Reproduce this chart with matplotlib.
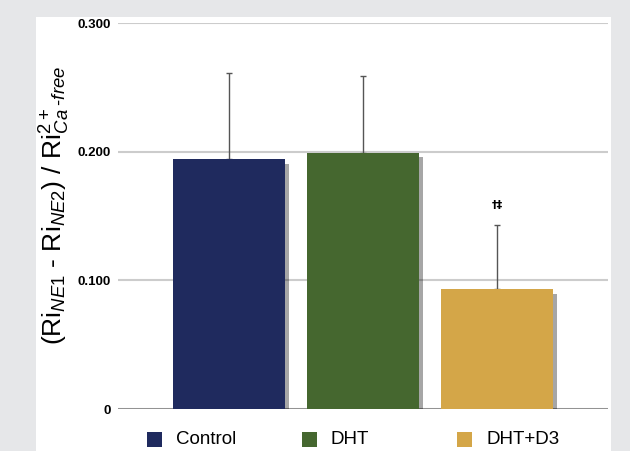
import matplotlib.pyplot as plt
import matplotlib.patheffects as pe
from matplotlib.patches import Rectangle

# Datos
groups = ['Control', 'DHT', 'DHT+D3']
means = [0.194, 0.199, 0.093]
errors = [0.067, 0.060, 0.050]
colors = ['#1f2a5e', '#45672f', '#d4a648']
yticks = [0, 0.1, 0.2, 0.3]
ytick_labels = ['0', '0.100', '0.200', '0.300']
marks = ['', '', '†‡']

plt.rcParams['font.family'] = ['Liberation Sans', 'DejaVu Sans']
plt.rcParams['mathtext.fontset'] = 'custom'
plt.rcParams['mathtext.rm'] = 'Liberation Sans'
plt.rcParams['mathtext.it'] = 'Liberation Sans:italic'

fig = plt.figure(figsize=(6.3, 4.51), dpi=100, facecolor='#e6e7e9')

# Panel blanco
fig.patches.append(Rectangle((36 / 630, 0), (611 - 36) / 630, (451 - 17) / 451,
                             transform=fig.transFigure, facecolor='white',
                             edgecolor='none', zorder=-5))

ax = fig.add_axes([118 / 630, 42 / 451, 490 / 630, 386 / 451])
ax.set_facecolor('none')
ax.set_zorder(2)

x = range(len(groups))
bars = ax.bar(x, means, width=0.836, color=colors, zorder=3)
for b in bars:
    b.set_path_effects([pe.SimplePatchShadow(offset=(3, -3), shadow_rgbFace='k', alpha=0.35),
                        pe.Normal()])

ax.errorbar(x, means, yerr=[[0] * len(means), errors], fmt='none', ecolor='#555555',
            elinewidth=1, capsize=2, capthick=1, zorder=2)

for i, m in enumerate(marks):
    if m:
        ax.text(i, means[i] + errors[i] + 0.012, m, ha='center', va='bottom',
                fontsize=8, fontweight='bold', family=['DejaVu Sans'])

ax.set_xlim(-0.828, 2.828)
ax.set_ylim(0, 0.3)
ax.set_yticks(yticks)
ax.set_yticklabels(ytick_labels, fontsize=9.5, fontweight='bold')
ax.set_xticks([])
ax.tick_params(axis='y', length=0, pad=5)
for s in ax.spines.values():
    s.set_visible(False)
ax.grid(axis='y', color='#cccccc', linewidth=1.5, zorder=0)
ax.axhline(0, color='#888888', linewidth=1.2, zorder=1)
ax.set_axisbelow(True)

ax.set_ylabel(r'(Ri$_{\mathit{NE1}}$ - Ri$_{\mathit{NE2}}$) / Ri$_{\mathit{Ca}}^{2+}{}_{\text{-}\mathit{free}}$',
              fontsize=19)
ax.yaxis.set_label_coords(-0.094, 0.528)

# Leyenda
for i, g in enumerate(groups):
    x0 = 147 + i * 155
    fig.patches.append(Rectangle((x0 / 630, 4 / 451), 15 / 630, 15 / 451,
                                 transform=fig.transFigure, facecolor=colors[i],
                                 edgecolor='none', zorder=1))
    fig.text((x0 + 29) / 630, 11 / 451, g, fontsize=13.5, va='center', ha='left')

fig.savefig('out.png', dpi=100, facecolor=fig.get_facecolor())
